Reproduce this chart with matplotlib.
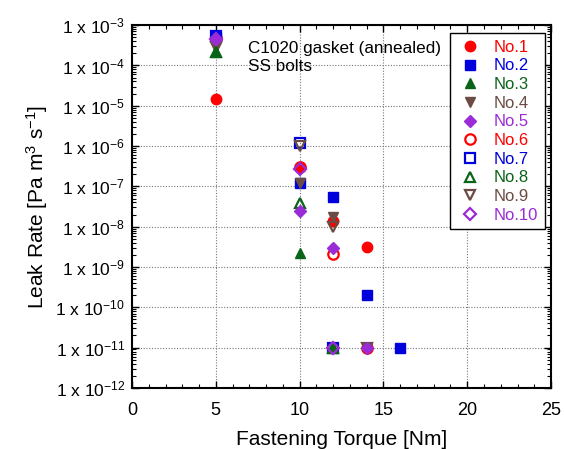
import matplotlib
matplotlib.use("Agg")
import matplotlib.pyplot as plt
from matplotlib.ticker import LogLocator, MultipleLocator, FixedLocator, NullFormatter
import numpy as np

plt.rcParams['font.family'] = ['Liberation Sans', 'DejaVu Sans']
plt.rcParams['mathtext.fontset'] = 'custom'
plt.rcParams['mathtext.rm'] = 'Liberation Sans'
plt.rcParams['mathtext.it'] = 'Liberation Sans'

names = ["No.1", "No.2", "No.3", "No.4", "No.5", "No.6", "No.7", "No.8", "No.9", "No.10"]
colors = ["#FF0000", "#0000DD", "#0A6418", "#6B4C44", "#9A2BD6",
          "#FF0000", "#0000DD", "#0A6418", "#6B4C44", "#9A2BD6"]
markers = ["o", "s", "^", "v", "D", "o", "s", "^", "v", "D"]
filled = [True, True, True, True, True, False, False, False, False, False]

torque = {
    "No.1": [5, 10, 12, 14],
    "No.2": [5, 10, 12, 14, 16],
    "No.3": [5, 10, 12],
    "No.4": [5, 10, 12, 14],
    "No.5": [5, 10, 12, 14],
    "No.6": [5, 10, 12, 14],
    "No.7": [5, 10, 12],
    "No.8": [5, 10, 12],
    "No.9": [5, 10, 12, 14],
    "No.10": [5, 10, 12],
}
leak = {
    "No.1": [1.5e-5, 3.0e-7, 1.4e-8, 3.2e-9],
    "No.2": [5.0e-4, 1.2e-7, 5.5e-8, 2.0e-10, 1e-11],
    "No.3": [2.2e-4, 2.2e-9, 1e-11],
    "No.4": [2.8e-4, 1.2e-7, 1.7e-8, 1e-11],
    "No.5": [4.5e-4, 2.4e-8, 3.0e-9, 1e-11],
    "No.6": [4.8e-4, 3.0e-7, 2.1e-9, 1e-11],
    "No.7": [5.5e-4, 1.2e-6, 1e-11],
    "No.8": [2.2e-4, 3.9e-8, 1e-11],
    "No.9": [2.8e-4, 1.0e-6, 1.0e-8, 1e-11],
    "No.10": [4.5e-4, 2.7e-7, 1e-11],
}

xticks = [0, 5, 10, 15, 20, 25]
yexps = list(range(-12, -2))

fig = plt.figure(figsize=(5.64, 4.49), dpi=100)
ax = fig.add_axes([0.234, 0.136, 0.743, 0.808])

draw_order = [5, 0, 1, 3, 6, 8, 2, 7, 4, 9]
for i in draw_order:
    n = names[i]
    c = colors[i]
    ax.plot(torque[n], leak[n], linestyle='none', marker=markers[i],
            markersize=7.5 if markers[i] != 'D' else 6.5,
            markerfacecolor=c if filled[i] else 'none',
            markeredgecolor=c, markeredgewidth=1.0 if filled[i] else 1.6,
            label=n, zorder=3)

ax.set_yscale('log')
ax.set_xlim(0, 25)
ax.set_ylim(1e-12, 1e-3)
ax.xaxis.set_major_locator(FixedLocator(xticks))
ax.xaxis.set_minor_locator(MultipleLocator(1))
ax.yaxis.set_major_locator(FixedLocator([10.0**e for e in yexps]))
ax.yaxis.set_minor_locator(LogLocator(base=10, subs=np.arange(2, 10), numticks=20))
ax.yaxis.set_minor_formatter(NullFormatter())
ax.set_xticklabels([str(t) for t in xticks], fontsize=13)
ax.set_yticklabels([r'1 x 10$^{%d}$' % e for e in yexps], fontsize=12.5)

ax.tick_params(which='both', direction='in', top=True, right=True)
ax.tick_params(which='major', length=5, width=1)
ax.tick_params(which='minor', length=3, width=0.8)
ax.tick_params(axis='x', pad=10)
ax.tick_params(axis='y', pad=5)
ax.grid(True, which='major', linestyle=(0, (1, 1.5)), color='#777777', linewidth=0.8)
for s in ax.spines.values():
    s.set_linewidth(1.5)

ax.set_xlabel('Fastening Torque [Nm]', fontsize=15, labelpad=8)
ax.set_ylabel(r'Leak Rate [Pa m$^{3}$ s$^{-1}$]', fontsize=15, labelpad=4)

ax.text(0.277, 0.955, 'C1020 gasket (annealed)\nSS bolts', transform=ax.transAxes,
        fontsize=12.3, va='top', ha='left', linespacing=1.25)

handles, labels = ax.get_legend_handles_labels()
order = [labels.index(n) for n in names]
leg = ax.legend([handles[k] for k in order], [labels[k] for k in order],
                loc='upper right', bbox_to_anchor=(0.985, 0.978), fontsize=12,
                frameon=True, fancybox=False, edgecolor='black', framealpha=1,
                handletextpad=0.6, labelspacing=0.22, borderpad=0.4,
                handlelength=1.6, borderaxespad=0)
leg.get_frame().set_linewidth(1.0)
for txt, c in zip(leg.get_texts(), colors):
    txt.set_color(c)

fig.savefig('out.png', dpi=100)
